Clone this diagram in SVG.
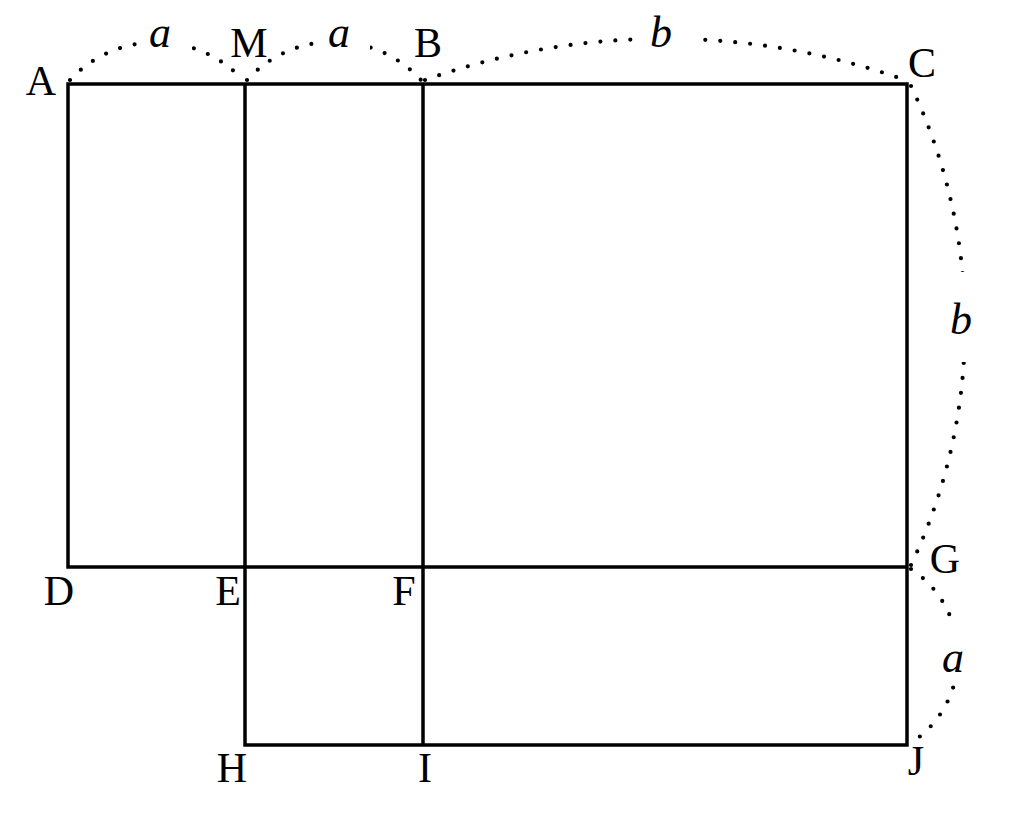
<svg xmlns="http://www.w3.org/2000/svg" width="1024" height="814" viewBox="0 0 1024 814">
<style>
.ln{stroke:#000;stroke-width:3.5;fill:none;stroke-linecap:square}
.dot{stroke:#000;stroke-width:4.2;fill:none;stroke-linecap:round;stroke-dasharray:0 15}
.lb{font-family:"Liberation Serif","Times New Roman",serif;font-size:42px;fill:#000;text-anchor:middle}
.it{font-family:"Liberation Serif","Times New Roman",serif;font-size:44px;font-style:italic;fill:#000;text-anchor:middle}
</style>
<defs>
<mask id="gap" maskUnits="userSpaceOnUse" x="0" y="0" width="1024" height="814">
<rect x="0" y="0" width="1024" height="814" fill="#fff"/>
<rect x="140" y="10" width="52" height="50" fill="#000"/>
<rect x="318" y="10" width="52" height="50" fill="#000"/>
<rect x="642" y="5" width="54" height="55" fill="#000"/>
<rect x="935" y="272" width="50" height="90" fill="#000"/>
<rect x="930" y="626" width="50" height="56" fill="#000"/>
</mask>
</defs>
<rect width="1024" height="814" fill="#fff"/>
<g id="connectors">
<path class="ln" d="M68 84 H907 V745 H245 V84 M68 84 V567 H907 M423 84 V745"/>
<g mask="url(#gap)">
<path class="dot" d="M70 80 A118 118 0 0 1 243 80"/>
<path class="dot" d="M247 80 A118 118 0 0 1 421 80"/>
<path class="dot" d="M425 80 A718 718 0 0 1 905 80"/>
<path class="dot" d="M911 86 A558 558 0 0 1 911 565"/>
<path class="dot" d="M911 569 A104 104 0 0 1 911 743"/>
</g>
</g>
<g id="node-A"><text class="lb" x="41" y="95">A</text></g>
<g id="node-M"><text class="lb" x="249" y="57">M</text></g>
<g id="node-B"><text class="lb" x="428" y="57">B</text></g>
<g id="node-C"><text class="lb" x="922" y="77">C</text></g>
<g id="node-D"><text class="lb" x="59" y="605">D</text></g>
<g id="node-E"><text class="lb" x="228" y="605">E</text></g>
<g id="node-F"><text class="lb" x="404" y="605">F</text></g>
<g id="node-G"><text class="lb" x="945" y="573">G</text></g>
<g id="node-H"><text class="lb" x="232" y="782">H</text></g>
<g id="node-I"><text class="lb" x="425" y="782">I</text></g>
<g id="node-J"><text class="lb" x="916" y="775">J</text></g>
<g id="labels">
<text class="it" x="160" y="47">a</text>
<text class="it" x="339" y="47">a</text>
<text class="it" x="661" y="47">b</text>
<text class="it" x="961" y="334">b</text>
<text class="it" x="953" y="672">a</text>
</g>
</svg>
